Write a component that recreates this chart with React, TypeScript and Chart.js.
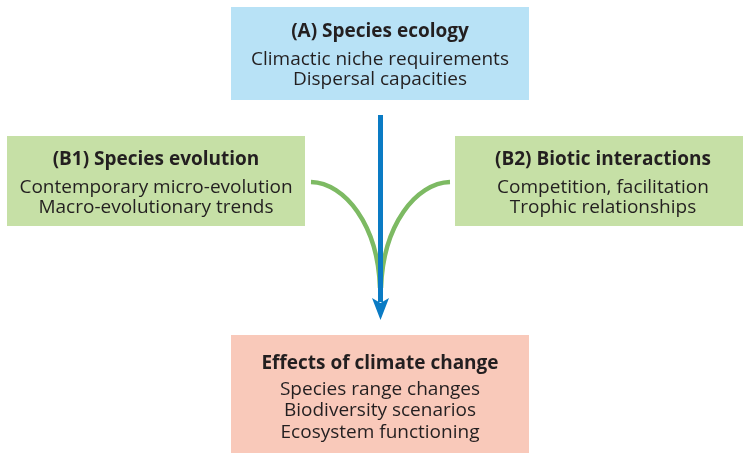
import React, { useEffect, useRef } from 'react';
import { Chart, registerables } from 'chart.js';

Chart.register(...registerables);

const CANVAS_W = 743;
const CANVAS_H = 454;

// Diagram nodes (coordinates in the diagram's own data space: x 0..743, y 0..454 downwards)
const nodeTitles = [
  '(A) Species ecology',
  '(B1) Species evolution',
  '(B2) Biotic interactions',
  'Effects of climate change',
];
const nodeLines = [
  ['Climactic niche requirements', 'Dispersal capacities'],
  ['Contemporary micro-evolution', 'Macro-evolutionary trends'],
  ['Competition, facilitation', 'Trophic relationships'],
  ['Species range changes', 'Biodiversity scenarios', 'Ecosystem functioning'],
];
const nodeLeft = [231, 7, 455, 231];
const nodeRight = [529, 305, 751, 529];
const nodeTop = [7, 136, 136, 335];
const nodeBottom = [100, 226, 226, 453];
const nodeTitleBaseline = [37, 165, 165, 369];
const nodeLineBaselines = [
  [65, 85],
  [193, 213],
  [193, 213],
  [395, 416, 438],
];
const nodeFill = ['#b8e2f6', '#c6e0a6', '#c6e0a6', '#f9c9ba'];

// Blue main arrow (x, yStart, yEnd/tip)
const arrowX = 380.5;
const arrowTop = 115;
const arrowHeadBase = 298;
const arrowTip = 320;

// Green converging curves: start, control 1, control 2, end
const curveStartX = [311, 450];
const curveStartY = [182, 182];
const curveC1X = [345, 416];
const curveC1Y = [183, 183];
const curveC2X = [378, 383];
const curveC2Y = [225, 225];
const curveEndX = [380, 381];
const curveEndY = [288, 288];

const FONT = '"Open Sans", "Noto Sans", sans-serif';
const FONT_SIZE = 19;
const TEXT_COLOR = '#231f20';

const diagramPlugin = {
  id: 'diagram',
  beforeDatasetsDraw(chart: any) {
    const { ctx } = chart;
    const xs = chart.scales.x;
    const ys = chart.scales.y;
    const px = (v: number) => xs.getPixelForValue(v);
    const py = (v: number) => ys.getPixelForValue(v);
    ctx.save();

    // Boxes
    for (let i = 0; i < nodeTitles.length; i++) {
      ctx.fillStyle = nodeFill[i];
      const x0 = px(nodeLeft[i]);
      const x1 = px(nodeRight[i]);
      const y0 = py(nodeTop[i]);
      const y1 = py(nodeBottom[i]);
      ctx.fillRect(x0, y0, x1 - x0, y1 - y0);
    }

    // Green curves
    ctx.strokeStyle = '#7dba63';
    ctx.lineWidth = 4.5;
    ctx.lineCap = 'butt';
    for (let i = 0; i < curveStartX.length; i++) {
      ctx.beginPath();
      ctx.moveTo(px(curveStartX[i]), py(curveStartY[i]));
      ctx.bezierCurveTo(
        px(curveC1X[i]), py(curveC1Y[i]),
        px(curveC2X[i]), py(curveC2Y[i]),
        px(curveEndX[i]), py(curveEndY[i])
      );
      ctx.stroke();
    }

    // Blue arrow
    ctx.fillStyle = '#0a7bc4';
    const ax = px(arrowX);
    ctx.fillRect(ax - 2.5, py(arrowTop), 5, py(arrowHeadBase + 4) - py(arrowTop));
    ctx.beginPath();
    ctx.moveTo(ax, py(arrowTip));
    ctx.lineTo(ax - 8.5, py(arrowHeadBase));
    ctx.lineTo(ax, py(arrowHeadBase + 5));
    ctx.lineTo(ax + 8.5, py(arrowHeadBase));
    ctx.closePath();
    ctx.fill();

    // Text
    ctx.fillStyle = TEXT_COLOR;
    ctx.textAlign = 'center';
    ctx.textBaseline = 'alphabetic';
    for (let i = 0; i < nodeTitles.length; i++) {
      const cx = px((nodeLeft[i] + nodeRight[i]) / 2);
      ctx.font = `bold ${FONT_SIZE}px ${FONT}`;
      ctx.fillText(nodeTitles[i], cx, py(nodeTitleBaseline[i]));
      ctx.font = `${FONT_SIZE}px ${FONT}`;
      nodeLines[i].forEach((line, j) => {
        ctx.fillText(line, cx, py(nodeLineBaselines[i][j]));
      });
    }
    ctx.restore();
  },
};

export default function App() {
  const ref = useRef<HTMLCanvasElement | null>(null);
  useEffect(() => {
    document.body.style.margin = '0';
    const canvas = ref.current!;
    const chart = new Chart(canvas, {
      type: 'scatter',
      data: { datasets: [{ data: [], showLine: false }] },
      options: {
        animation: false,
        responsive: false,
        devicePixelRatio: 1,
        layout: { padding: 0 },
        plugins: { legend: { display: false }, tooltip: { enabled: false } },
        scales: {
          x: { type: 'linear', min: 0, max: CANVAS_W, display: false },
          y: { type: 'linear', min: 0, max: CANVAS_H, reverse: true, display: false },
        },
      },
      plugins: [diagramPlugin],
    });
    return () => chart.destroy();
  }, []);
  return (
    <div style={{ width: CANVAS_W, height: CANVAS_H, background: '#ffffff' }}>
      <canvas ref={ref} width={CANVAS_W} height={CANVAS_H} />
    </div>
  );
}
